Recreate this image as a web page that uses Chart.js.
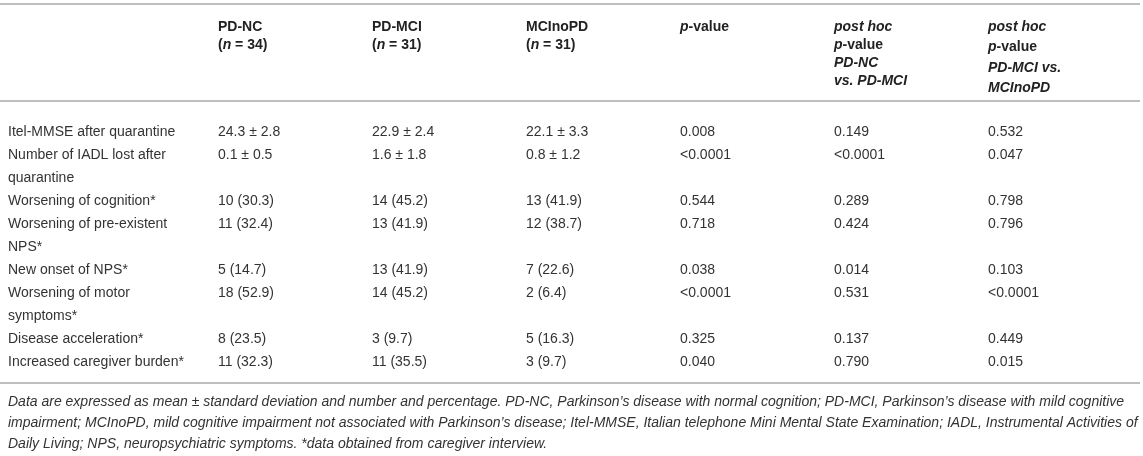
<!DOCTYPE html>
<html>
<head>
<meta charset="utf-8">
<script src="https://cdn.jsdelivr.net/npm/chart.js@4.4.1/dist/chart.umd.min.js"></script>
<style>
  html, body { margin: 0; background: #fff; }
  #wrap { width: 1143px; height: 456px; position: relative; }
</style>
</head>
<body>
<div id="wrap"><canvas id="tbl"></canvas></div>
<script>
// table content
const columns = ['PD-NC', 'PD-MCI', 'MCInoPD', 'p-value', 'post hoc NC vs MCI', 'post hoc MCI vs noPD'];
// _x_ marks italic runs, every header is bold
const headers = [
  ['PD-NC', '(_n_ = 34)'],
  ['PD-MCI', '(_n_ = 31)'],
  ['MCInoPD', '(_n_ = 31)'],
  ['_p_-value'],
  ['_post hoc_', '_p_-value', '_PD-NC_', '_vs. PD-MCI_'],
  ['_post hoc_', '_p_-value', '_PD-MCI vs._', '_MCInoPD_']
];
const rowLabels = [
  ['Itel-MMSE after quarantine'],
  ['Number of IADL lost after', 'quarantine'],
  ['Worsening of cognition*'],
  ['Worsening of pre-existent', 'NPS*'],
  ['New onset of NPS*'],
  ['Worsening of motor', 'symptoms*'],
  ['Disease acceleration*'],
  ['Increased caregiver burden*']
];
const pdNC = ['24.3 \u00b1 2.8', '0.1 \u00b1 0.5', '10 (30.3)', '11 (32.4)', '5 (14.7)', '18 (52.9)', '8 (23.5)', '11 (32.3)'];
const pdMCI = ['22.9 \u00b1 2.4', '1.6 \u00b1 1.8', '14 (45.2)', '13 (41.9)', '13 (41.9)', '14 (45.2)', '3 (9.7)', '11 (35.5)'];
const mciNoPD = ['22.1 \u00b1 3.3', '0.8 \u00b1 1.2', '13 (41.9)', '12 (38.7)', '7 (22.6)', '2 (6.4)', '5 (16.3)', '3 (9.7)'];
const pValue = ['0.008', '<0.0001', '0.544', '0.718', '0.038', '<0.0001', '0.325', '0.040'];
const postHocNCvsMCI = ['0.149', '<0.0001', '0.289', '0.424', '0.014', '0.531', '0.137', '0.790'];
const postHocMCIvsNoPD = ['0.532', '0.047', '0.798', '0.796', '0.103', '<0.0001', '0.449', '0.015'];
const footnote = [
  'Data are expressed as mean \u00b1 standard deviation and number and percentage. PD-NC, Parkinson\u2019s disease with normal cognition; PD-MCI, Parkinson\u2019s disease with mild cognitive',
  'impairment; MCInoPD, mild cognitive impairment not associated with Parkinson\u2019s disease; Itel-MMSE, Italian telephone Mini Mental State Examination; IADL, Instrumental Activities of',
  'Daily Living; NPS, neuropsychiatric symptoms. *data obtained from caregiver interview.'
];

const cells = [pdNC, pdMCI, mciNoPD, pValue, postHocNCvsMCI, postHocMCIvsNoPD];

// each row starts on the text line after the previous row's last line
const rowStart = [];
let lineCount = 0;
rowLabels.forEach(r => { rowStart.push(lineCount); lineCount += r.length; });

const FONT = '"Liberation Sans", Arial, Helvetica, sans-serif';
const SIZE = 14;
const TEXT = '#333';
const RULE = '#a8a8a8';

function drawRich(ctx, str, x, y, bold) {
  const parts = str.split('_');
  let cx = x;
  parts.forEach((p, i) => {
    if (!p) return;
    const it = i % 2 === 1;
    ctx.font = (it ? 'italic ' : '') + (bold ? 'bold ' : '') + SIZE + 'px ' + FONT;
    ctx.fillText(p, cx, y);
    cx += ctx.measureText(p).width;
  });
}

const tablePlugin = {
  id: 'tableText',
  afterDatasetsDraw(chart) {
    const { ctx, chartArea, scales: { x, y } } = chart;
    const W = chart.width;
    const labelX = chartArea.left - 210;
    ctx.save();
    ctx.textBaseline = 'middle';
    ctx.textAlign = 'left';

    // rules
    ctx.strokeStyle = RULE;
    ctx.lineWidth = 1.5;
    const lineH = y.getPixelForValue(1) - y.getPixelForValue(0);
    [4, chartArea.top - 31, chartArea.bottom + 21].forEach(ly => {
      ctx.beginPath();
      ctx.moveTo(0, ly);
      ctx.lineTo(W - 3, ly);
      ctx.stroke();
    });

    // header
    ctx.fillStyle = '#222';
    headers.forEach((h, c) => {
      const hx = x.getPixelForValue(c);
      const step = c === 5 ? 20.5 : 18;
      h.forEach((ln, k) => drawRich(ctx, ln, hx, 27 + k * step, true));
    });

    // row labels
    ctx.fillStyle = TEXT;
    ctx.font = SIZE + 'px ' + FONT;
    rowLabels.forEach((r, i) => {
      r.forEach((ln, k) => ctx.fillText(ln, labelX, y.getPixelForValue(rowStart[i] + k)));
    });

    // cell values at each dataset point
    cells.forEach((col, c) => {
      chart.getDatasetMeta(c).data.forEach((pt, i) => {
        ctx.fillText(col[i], pt.x, pt.y);
      });
    });

    // footnote
    ctx.font = 'italic ' + SIZE + 'px ' + FONT;
    footnote.forEach((ln, k) => ctx.fillText(ln, labelX, chartArea.bottom + 40 + k * 21));
    ctx.restore();
  }
};

new Chart(document.getElementById('tbl'), {
  type: 'line',
  data: {
    labels: columns,
    datasets: cells.map((col, c) => ({
      label: columns[c],
      data: col.map((v, i) => ({ x: columns[c], y: rowStart[i] })),
      showLine: false,
      pointRadius: 0,
      pointHoverRadius: 0
    }))
  },
  options: {
    responsive: true,
    maintainAspectRatio: false,
    animation: false,
    events: [],
    layout: { padding: { left: 218, right: 155, top: 132, bottom: 94 } },
    plugins: { legend: { display: false }, tooltip: { enabled: false } },
    scales: {
      x: { type: 'category', offset: false, display: false },
      y: { type: 'linear', reverse: true, min: 0, max: lineCount - 1, display: false }
    }
  },
  plugins: [tablePlugin]
});
</script>
</body>
</html>
